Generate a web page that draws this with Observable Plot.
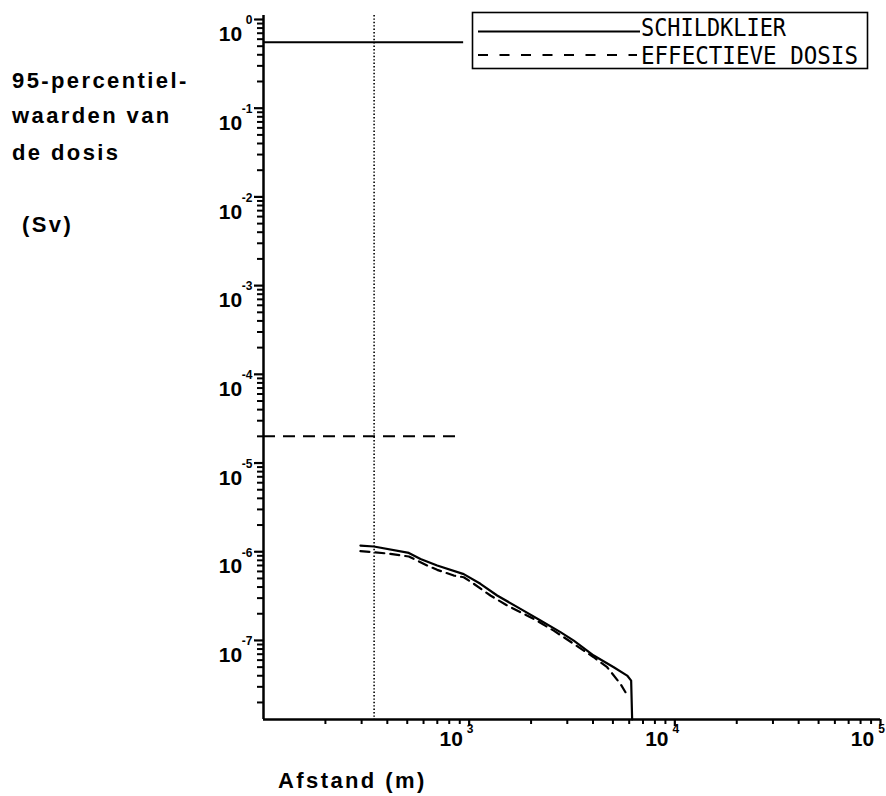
<!DOCTYPE html>
<html><head><meta charset="utf-8">
<script src="https://cdn.jsdelivr.net/npm/d3@7"></script>
<script src="https://cdn.jsdelivr.net/npm/@observablehq/plot@0.6"></script>
<style>
html,body{margin:0;padding:0;background:#fff;}
#wrap{position:relative;width:886px;height:796px;overflow:hidden;background:#fff;}
#wrap svg{display:block;}
#over{position:absolute;left:0;top:0;pointer-events:none;}
</style></head><body><div id="wrap"></div>
<script>
// ---- data ----
const afstandSchildklier = [296, 344, 509, 580, 699, 941, 1134, 1368, 1776, 2222, 2779, 3225, 4034, 5047, 5864, 6132, 6200];
const schildklier = [1.175e-6, 1.145e-6, 9.7e-7, 8.3e-7, 7.0e-7, 5.6e-7, 4.35e-7, 3.21e-7, 2.27e-7, 1.68e-7, 1.24e-7, 9.97e-8, 6.76e-8, 4.99e-8, 4.02e-8, 3.53e-8, 1.29e-8];
const afstandEffectief = [296, 344, 414, 509, 625, 699, 842, 941, 1053, 1269, 1530, 1776, 2061, 2578, 3225, 4034, 4687, 5440, 5754];
const effectieveDosis = [1.014e-6, 9.87e-7, 9.47e-7, 8.83e-7, 7.0e-7, 6.25e-7, 5.39e-7, 5.16e-7, 4.35e-7, 3.21e-7, 2.48e-7, 2.08e-7, 1.75e-7, 1.29e-7, 9.16e-8, 6.47e-8, 4.99e-8, 3.24e-8, 2.61e-8];
const grensSchildklier = [0.555];   // horizontal solid reference level
const grensEffectief = [2.0e-5];    // horizontal dashed reference level
const grensEinde = [940, 890];      // where the two reference levels end (m)
const referentieAfstand = [345];    // vertical dotted line (m)
const yExponenten = [0, -1, -2, -3, -4, -5, -6, -7];
const xExponenten = [3, 4, 5];
const legendLabels = ["SCHILDKLIER", "EFFECTIEVE DOSIS"];
const yTitel = ["95-percentiel-", "waarden van", "de dosis"];
const yEenheid = "(Sv)";
const xTitel = "Afstand (m)";
const xDomain = [100, 1e5];
const yDomain = [1.285e-8, 1.109];

const W = 886, H = 796, mL = 263, mR = 6, mT = 15, mB = 77;
const ink = "#000";
const schildData = afstandSchildklier.map((d, i) => ({afstand: d, dosis: schildklier[i]}));
const effData = afstandEffectief.map((d, i) => ({afstand: d, dosis: effectieveDosis[i]}));
const majorY = yExponenten.map(e => 10 ** e);
const majorX = xExponenten.map(e => 10 ** e);
const minorX = d3.scaleLog().domain(xDomain).ticks().filter(v => !majorX.concat([100]).some(m => Math.abs(v - m) < 1e-6 * v));
const minorY = d3.scaleLog().domain(yDomain).ticks().filter(v => !majorY.some(m => Math.abs(v - m) < 1e-6 * v));

const blank = () => "";
const chart = Plot.plot({
  width: W, height: H,
  marginLeft: mL, marginRight: mR, marginTop: mT, marginBottom: mB,
  x: {type: "log", domain: xDomain},
  y: {type: "log", domain: yDomain},
  style: {background: "#fff", color: ink, fontFamily: "'Liberation Sans', Arial, sans-serif"},
  marks: [
    Plot.axisY(minorY, {anchor: "left", tickSize: 6, tickFormat: blank, label: null, stroke: ink, strokeWidth: 2}),
    Plot.axisY(majorY, {anchor: "left", tickSize: 9, tickFormat: blank, label: null, stroke: ink, strokeWidth: 2.2}),
    Plot.axisX(minorX, {anchor: "bottom", tickSize: 5, tickFormat: blank, label: null, stroke: ink, strokeWidth: 2}),
    Plot.axisX(majorX, {anchor: "bottom", tickSize: 7, tickFormat: blank, label: null, stroke: ink, strokeWidth: 2.2}),
    Plot.ruleX([xDomain[0]], {stroke: ink, strokeWidth: 2.5}),
    Plot.ruleY([yDomain[0]], {stroke: ink, strokeWidth: 2.5}),
    Plot.ruleX(referentieAfstand, {stroke: ink, strokeWidth: 1.6, strokeDasharray: "1.4,2"}),
    Plot.ruleY(grensSchildklier, {x1: xDomain[0], x2: grensEinde[0], stroke: ink, strokeWidth: 2}),
    Plot.ruleY(grensEffectief, {x1: xDomain[0], x2: grensEinde[1], stroke: ink, strokeWidth: 2, strokeDasharray: "12,8"}),
    Plot.line(schildData, {x: "afstand", y: "dosis", stroke: ink, strokeWidth: 2.2}),
    Plot.line(effData, {x: "afstand", y: "dosis", stroke: ink, strokeWidth: 2.2, strokeDasharray: "9,6"}),
    Plot.text(yExponenten, {y: e => 10 ** e, frameAnchor: "left", text: () => "10", dx: -33, dy: 15, fontSize: 21, fontWeight: "bold", textAnchor: "middle", fill: ink}),
    Plot.text(yExponenten, {y: e => 10 ** e, frameAnchor: "left", text: e => String(e), dx: -11, dy: 1, fontSize: 12, fontWeight: "bold", textAnchor: "end", fill: ink}),
    Plot.text(xExponenten, {x: e => 10 ** e, frameAnchor: "bottom", text: () => "10", dx: -18, dy: 26, fontSize: 21, fontWeight: "bold", textAnchor: "middle", fill: ink}),
    Plot.text(xExponenten, {x: e => 10 ** e, frameAnchor: "bottom", text: e => String(e), dx: 1, dy: 13, fontSize: 12, fontWeight: "bold", textAnchor: "middle", fill: ink})
  ]
});
const wrap = document.getElementById("wrap");
wrap.appendChild(chart);

// overlay: axis titles and legend
const over = d3.select(wrap).append("svg").attr("id", "over").attr("width", W).attr("height", H);
const titleFont = "'Liberation Sans', Arial, sans-serif";
const tg = over.append("g").attr("font-family", titleFont).attr("font-weight", "bold")
  .attr("font-size", 22).attr("letter-spacing", "2.4px").attr("fill", ink);
yTitel.forEach((t, i) => tg.append("text").attr("x", 12).attr("y", [88, 123, 160][i]).text(t));
tg.append("text").attr("x", 22).attr("y", 232).text(yEenheid);
tg.append("text").attr("x", 278).attr("y", 788).text(xTitel);

const lg = over.append("g");
lg.append("rect").attr("x", 472.5).attr("y", 12.5).attr("width", 395).attr("height", 56)
  .attr("fill", "#fff").attr("stroke", ink).attr("stroke-width", 1.6);
lg.append("line").attr("x1", 478).attr("x2", 640).attr("y1", 31.5).attr("y2", 31.5)
  .attr("stroke", ink).attr("stroke-width", 1.8);
lg.append("line").attr("x1", 478).attr("x2", 637).attr("y1", 55).attr("y2", 55)
  .attr("stroke", ink).attr("stroke-width", 1.8).attr("stroke-dasharray", "10,11.5");
const lgFont = "'DejaVu Sans Mono', monospace";
lg.append("text").attr("x", 641).attr("y", 36).attr("font-family", lgFont).attr("font-size", 25)
  .attr("textLength", 145).attr("lengthAdjust", "spacingAndGlyphs").attr("fill", ink).text(legendLabels[0]);
lg.append("text").attr("x", 641).attr("y", 64).attr("font-family", lgFont).attr("font-size", 25)
  .attr("textLength", 217).attr("lengthAdjust", "spacingAndGlyphs").attr("fill", ink).text(legendLabels[1]);
</script>
</body></html>
